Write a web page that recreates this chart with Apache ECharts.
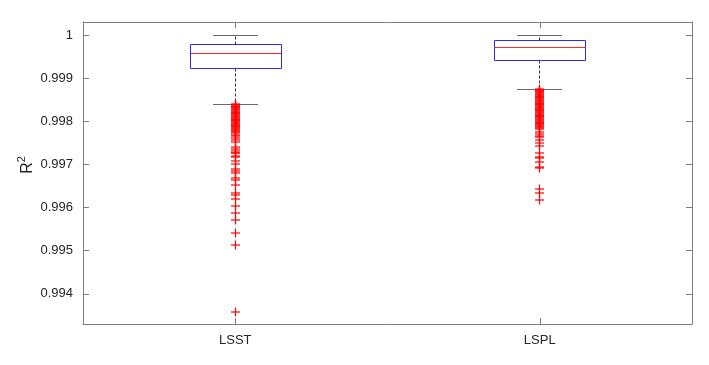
<!DOCTYPE html>
<html><head><meta charset="utf-8">
<script src="https://cdn.jsdelivr.net/npm/echarts@6/dist/echarts.min.js"></script>
<style>html,body{margin:0;padding:0;background:#fff}#c{width:709px;height:365px}</style>
</head><body><div id="c"></div>
<script>
const categories = ['LSST', 'LSPL'];
const whiskerLow = [0.998405, 0.998753];
const q1 = [0.999234, 0.999427];
const median = [0.999582, 0.999721];
const q3 = [0.999791, 0.999875];
const whiskerHigh = [1.0, 0.99999];
const outliersLSST = [
  0.99840,0.99838,0.99836,0.99834,0.99832,0.99830,0.99828,0.99826,0.99824,0.99822,
  0.99820,0.99818,0.99816,0.99814,0.99812,0.99810,0.99808,0.99806,0.99804,0.99802,
  0.99800,0.99798,0.99796,0.99794,0.99792,0.99790,0.99788,0.99786,0.99784,0.99782,
  0.99780,0.99778,0.99776,0.99773,0.99769,0.99765,0.99760,0.99756,0.99751,0.99740,
  0.99735,0.99732,0.99727,0.99726,0.99719,0.99717,0.99707,0.99701,0.99689,0.99684,
  0.99681,0.99668,0.99664,0.99652,0.99633,0.99628,0.99620,0.99604,0.99587,0.99571,
  0.99540,0.99514,0.99358
];
const outliersLSPL = [
  0.99875,0.99873,0.99871,0.99869,0.99867,0.99865,0.99863,0.99861,0.99859,0.99857,
  0.99855,0.99853,0.99851,0.99849,0.99847,0.99845,0.99843,0.99841,0.99839,0.99837,
  0.99835,0.99833,0.99831,0.99829,0.99827,0.99825,0.99823,0.99821,0.99819,0.99817,
  0.99815,0.99813,0.99811,0.99809,0.99807,0.99805,0.99803,0.99801,0.99799,0.99797,
  0.99795,0.99793,0.99791,0.99789,0.99787,0.99785,0.99783,0.99774,0.99770,0.99765,
  0.99763,0.99757,0.99749,0.99742,0.99726,0.99718,0.99714,0.99705,0.99693,0.99691,
  0.99642,0.99633,0.99617
];
const yTicks = [0.994, 0.995, 0.996, 0.997, 0.998, 0.999, 1];

const font = "'Liberation Sans', Arial, Helvetica, sans-serif";
const axisColor = '#7f7f7f';
const textColor = '#262626';

const boxData = categories.map((c, i) => [i, whiskerLow[i], q1[i], median[i], q3[i], whiskerHigh[i]]);
const outlierData = outliersLSST.map(v => [0, v]).concat(outliersLSPL.map(v => [1, v]));

const chart = echarts.init(document.getElementById('c'), null, {renderer: 'canvas'});
const yBase = {
  type: 'value', min: 0.9933, max: 1.0003, scale: true,
  splitLine: {show: false},
  axisLine: {show: true, lineStyle: {color: axisColor, width: 1}},
  axisTick: {show: true, inside: true, length: 6, customValues: yTicks, lineStyle: {color: axisColor}},
};
chart.setOption({
  animation: false,
  backgroundColor: '#fff',
  grid: {left: 83, right: 17, top: 22, bottom: 41, containLabel: false},
  xAxis: [{
    type: 'category', data: categories, position: 'bottom',
    axisLine: {show: true, lineStyle: {color: axisColor, width: 1}},
    axisTick: {show: true, inside: true, length: 6, alignWithLabel: true, lineStyle: {color: axisColor}},
    axisLabel: {color: textColor, fontSize: 13, fontFamily: font, margin: 10},
    splitLine: {show: false}
  }, {
    type: 'category', data: categories, position: 'top',
    axisLine: {show: true, onZero: false, lineStyle: {color: axisColor, width: 1}},
    axisTick: {show: true, inside: true, length: 6, alignWithLabel: true, lineStyle: {color: axisColor}},
    axisLabel: {show: false},
    splitLine: {show: false}
  }],
  yAxis: [Object.assign({}, yBase, {
    position: 'left',
    axisLabel: {
      show: true, color: textColor, fontSize: 13, fontFamily: font, margin: 10,
      customValues: yTicks,
      formatter: v => String(+(+v).toFixed(3))
    }
  }), Object.assign({}, yBase, {
    position: 'right',
    axisLabel: {show: false}
  })],
  graphic: [{
    type: 'text', x: 26, y: 165, rotation: Math.PI / 2,
    style: {
      text: '{r|R}{s|2}',
      fill: textColor, align: 'center', verticalAlign: 'middle',
      rich: {
        r: {fontSize: 16, fontFamily: font, fill: textColor, lineHeight: 20, verticalAlign: 'bottom'},
        s: {fontSize: 11, fontFamily: font, fill: textColor, lineHeight: 20, verticalAlign: 'top', padding: [0, 0, 8, 0]}
      }
    }
  }],
  series: [{
    type: 'custom',
    xAxisIndex: 0, yAxisIndex: 0,
    clip: false,
    data: boxData,
    encode: {x: 0, y: [1, 2, 3, 4, 5]},
    renderItem: function (params, api) {
      const i = api.value(0);
      const pLo = api.coord([i, api.value(1)]);
      const pQ1 = api.coord([i, api.value(2)]);
      const pMed = api.coord([i, api.value(3)]);
      const pQ3 = api.coord([i, api.value(4)]);
      const pHi = api.coord([i, api.value(5)]);
      const band = api.size([1, 0])[0];
      const bw = band * 0.30, cw = band * 0.148;
      const cx = Math.floor(pMed[0]) + 0.5;
      const r = y => Math.round(y) + 0.5;
      const bx = Math.round(cx - bw / 2) + 0.5, bwr = Math.round(bw);
      return {
        type: 'group',
        children: [
          {type: 'line', shape: {x1: cx, y1: r(pQ3[1]), x2: cx, y2: r(pHi[1])},
           style: {stroke: '#333', fill: null, lineWidth: 1, lineDash: [3, 2]}},
          {type: 'line', shape: {x1: cx, y1: r(pQ1[1]), x2: cx, y2: r(pLo[1])},
           style: {stroke: '#333', fill: null, lineWidth: 1, lineDash: [3, 2]}},
          {type: 'line', shape: {x1: cx - cw / 2, y1: r(pHi[1]), x2: cx + cw / 2, y2: r(pHi[1])},
           style: {stroke: '#6a6a6a', fill: null, lineWidth: 1}},
          {type: 'line', shape: {x1: cx - cw / 2, y1: r(pLo[1]), x2: cx + cw / 2, y2: r(pLo[1])},
           style: {stroke: '#6a6a6a', fill: null, lineWidth: 1}},
          {type: 'rect', shape: {x: bx, y: r(pQ3[1]), width: bwr, height: r(pQ1[1]) - r(pQ3[1])},
           style: {fill: 'none', stroke: '#2a2aff', lineWidth: 1}},
          {type: 'line', shape: {x1: bx, y1: r(pMed[1]), x2: bx + bwr, y2: r(pMed[1])},
           style: {stroke: '#ff2a2a', fill: null, lineWidth: 1}}
        ]
      };
    },
    z: 2
  }, {
    type: 'custom',
    xAxisIndex: 0, yAxisIndex: 0,
    clip: false,
    data: outlierData,
    encode: {x: 0, y: 1},
    renderItem: function (params, api) {
      const p = api.coord([api.value(0), api.value(1)]);
      const cx = Math.floor(p[0]) + 0.5, cy = Math.round(p[1]);
      return {
        type: 'group',
        children: [
          {type: 'line', shape: {x1: cx - 4.5, y1: cy, x2: cx + 4.5, y2: cy},
           style: {stroke: '#ff0000', fill: null, lineWidth: 1.2}},
          {type: 'line', shape: {x1: cx, y1: cy - 4.5, x2: cx, y2: cy + 4.5},
           style: {stroke: '#ff0000', fill: null, lineWidth: 1.2}}
        ]
      };
    },
    z: 3
  }]
});
</script>
</body></html>
